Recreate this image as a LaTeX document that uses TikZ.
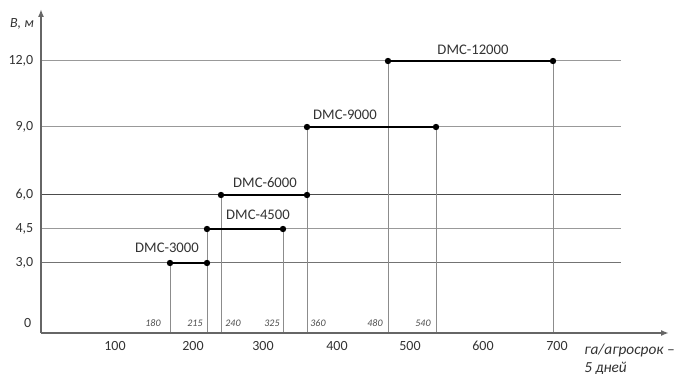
\documentclass[tikz,border=0pt]{standalone}
\usepackage{fontspec}
\setmainfont{Carlito}
\usetikzlibrary{arrows.meta}

\begin{document}
\begin{tikzpicture}[
		x=0.75pt, y=-0.75pt,
		% Estilos de lineas: rejilla, guias verticales, ejes y barras
		rejilla/.style={black!40, line width=0.75pt},
		guia/.style={black!45, line width=0.6pt},
		eje/.style={black!60, line width=1.4pt},
		barra/.style={line width=2.2pt},
		% Estilos de texto
		maquina/.style={font=\fontsize{11}{12}\selectfont, text=black!80},
		valor/.style={font=\fontsize{10.5}{12}\selectfont, text=black!80},
		dato/.style={font=\fontsize{7.5}{8}\selectfont\itshape, text=black!70}
	]
	\useasboundingbox (0,0) rectangle (679,374);

	% --- 1. Ejes ---
	\coordinate (O) at (41,333);
	\coordinate (ytop) at (41,9);
	\coordinate (xend) at (669,333);

	\node[font=\fontsize{10.5}{12}\selectfont\itshape, text=black!80] (ylab) at (22,24) {В, м};
	\node[font=\fontsize{11.5}{13}\selectfont\itshape, text=black!80, align=left,
		anchor=north west, inner sep=0pt] (xlab) at (584,344) {га/агросрок –\\5 дней};

	% --- 2. Rejilla horizontal y valores de altura ---
	\node[valor, anchor=east] (y12) at (38,61)  {12,0};
	\node[valor, anchor=east] (y9)  at (38,127) {9,0};
	\node[valor, anchor=east] (y6)  at (38,195) {6,0};
	\node[valor, anchor=east] (y45) at (38,229) {4,5};
	\node[valor, anchor=east] (y3)  at (38,263) {3,0};
	\node[valor, anchor=east] (y0)  at (36,323) {0};

	\coordinate (g12) at (621,61);
	\coordinate (g9)  at (621,127);
	\coordinate (g6)  at (621,195);
	\coordinate (g45) at (621,229);
	\coordinate (g3)  at (621,263);

	\draw[rejilla] (O |- g12) -- (g12);
	\draw[rejilla] (O |- g9) -- (g9);
	\draw[rejilla, black!70] (O |- g6) -- (g6);
	\draw[rejilla] (O |- g45) -- (g45);
	\draw[rejilla, black!55] (O |- g3) -- (g3);

	% --- 3. Extremos de cada maquina ---
	\coordinate (p1a) at (170,263);
	\coordinate (p1b) at (207,263);
	\coordinate (p2a) at (207,229);
	\coordinate (p2b) at (283,229);
	\coordinate (p3a) at (221,195);
	\coordinate (p3b) at (307,195);
	\coordinate (p4a) at (307,127);
	\coordinate (p4b) at (436,127);
	\coordinate (p5a) at (388,61);
	\coordinate (p5b) at (553,61);

	% Guias verticales hasta el eje x
	\draw[guia] (p1a) -- (p1a |- O);
	\draw[guia] (p2a) -- (p2a |- O);
	\draw[guia] (p2b) -- (p2b |- O);
	\draw[guia] (p3a) -- (p3a |- O);
	\draw[guia] (p4a) -- (p4a |- O);
	\draw[guia] (p4b) -- (p4b |- O);
	\draw[guia] (p5a) -- (p5a |- O);
	\draw[guia] (p5b) -- (p5b |- O);

	\draw[eje, -{Latex[length=6pt, width=4.5pt]}] (O) -- (ytop);
	\draw[eje, -{Latex[length=6pt, width=4.5pt]}] (O) -- (xend);

	% Barras de productividad (los puntos van encima de las guias)
	\draw[barra] (p1a) -- (p1b);
	\draw[barra] (p2a) -- (p2b);
	\draw[barra] (p3a) -- (p3b);
	\draw[barra] (p4a) -- (p4b);
	\draw[barra] (p5a) -- (p5b);

	\fill (p1a) circle (2.4pt) (p1b) circle (2.4pt)
		(p2a) circle (2.4pt) (p2b) circle (2.4pt)
		(p3a) circle (2.4pt) (p3b) circle (2.4pt)
		(p4a) circle (2.4pt) (p4b) circle (2.4pt)
		(p5a) circle (2.4pt) (p5b) circle (2.4pt);

	% --- 4. Etiquetas ---
	\node[maquina] (l3000)  at (167,248) {DMC-3000};
	\node[maquina] (l4500)  at (258,215) {DMC-4500};
	\node[maquina] (l6000)  at (265,183) {DMC-6000};
	\node[maquina] (l9000)  at (345,115) {DMC-9000};
	\node[maquina] (l12000) at (473,50)  {DMC-12000};

	% Valores sobre el eje x
	\node[dato] (d180) at (153,323) {180};
	\node[dato] (d215) at (195,323) {215};
	\node[dato] (d240) at (233,323) {240};
	\node[dato] (d325) at (272,323) {325};
	\node[dato] (d360) at (318,323) {360};
	\node[dato] (d480) at (375,323) {480};
	\node[dato] (d540) at (423,323) {540};

	\node[valor] (x100) at (115,346) {100};
	\node[valor] (x200) at (193,346) {200};
	\node[valor] (x300) at (263,346) {300};
	\node[valor] (x400) at (337,346) {400};
	\node[valor] (x500) at (410,346) {500};
	\node[valor] (x600) at (483,346) {600};
	\node[valor] (x700) at (557,346) {700};

\end{tikzpicture}
\end{document}
